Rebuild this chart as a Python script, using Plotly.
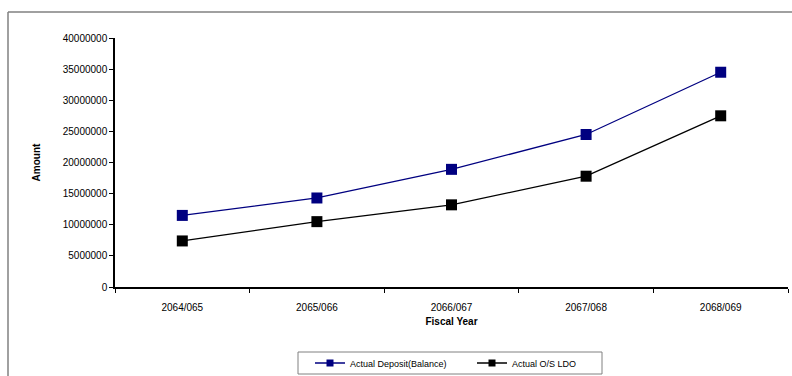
import plotly.graph_objects as go

# Fiscal years and balances
years = ["2064/065", "2065/066", "2066/067", "2067/068", "2068/069"]
deposit = [11500000, 14300000, 18900000, 24500000, 34500000]
os_ldo = [7400000, 10500000, 13200000, 17800000, 27500000]
y_ticks = [0, 5000000, 10000000, 15000000, 20000000, 25000000, 30000000, 35000000, 40000000]

series = [
    ("Actual Deposit(Balance)", deposit, "#000080"),
    ("Actual O/S LDO", os_ldo, "#000000"),
]

W, H = 792, 376
L, R, T, B = 115, 4, 38, 89
pw, ph = W - L - R, H - T - B


def px_x(p):
    return (p - L) / pw


def px_y(p):
    return (H - B - p) / ph


fig = go.Figure()
for name, vals, color in series:
    fig.add_trace(go.Scatter(
        x=years, y=vals, name=name, mode="lines+markers", showlegend=False,
        line=dict(color=color, width=1.3),
        marker=dict(symbol="square", size=11, color=color),
    ))
# legend keys with smaller markers
for name, vals, color in series:
    fig.add_trace(go.Scatter(
        x=[None], y=[None], name=name, mode="lines+markers",
        line=dict(color=color, width=1.3),
        marker=dict(symbol="square", size=7, color=color),
    ))

# outer frame (top and left edges)
frame = dict(type="line", xref="paper", yref="paper", line=dict(color="#808080", width=1.5))
fig.add_shape(**frame, x0=px_x(8), y0=px_y(12), x1=px_x(W + 5), y1=px_y(12))
fig.add_shape(**frame, x0=px_x(8), y0=px_y(12), x1=px_x(8), y1=px_y(H + 5))
# legend box
fig.add_shape(type="rect", xref="paper", yref="paper",
              x0=px_x(298), x1=px_x(602), y0=px_y(352), y1=px_y(374),
              line=dict(color="#808080", width=1))

fig.update_layout(
    width=W, height=H,
    margin=dict(l=L, r=R, t=T, b=B, autoexpand=False),
    paper_bgcolor="white", plot_bgcolor="white",
    font=dict(family="Liberation Sans, Arial, sans-serif", size=10, color="black"),
    showlegend=True,
    legend=dict(
        orientation="h", x=px_x(472), xanchor="center", y=px_y(363), yanchor="middle",
        borderwidth=0, bgcolor="rgba(0,0,0,0)",
        font=dict(size=9), itemwidth=30, entrywidth=117, tracegroupgap=0,
    ),
    xaxis=dict(
        type="category", showline=True, linecolor="black", linewidth=1.5,
        ticks="outside", ticklen=4, tickcolor="black", tickson="boundaries",
        ticklabelstandoff=10, tickfont=dict(size=10),
        showgrid=False, zeroline=False,
        title=dict(text="<b>Fiscal Year</b>", font=dict(size=10), standoff=6),
        range=[-0.5, 4.5],
    ),
    yaxis=dict(
        range=[0, 40000000], tickvals=y_ticks, ticktext=[str(v) for v in y_ticks],
        showline=True, linecolor="black", linewidth=1.5,
        ticks="outside", ticklen=4, tickcolor="black", tickfont=dict(size=10),
        showgrid=False, zeroline=False,
        title=dict(text="<b>Amount</b>", font=dict(size=10), standoff=20),
    ),
)

fig.write_html("out.html")
